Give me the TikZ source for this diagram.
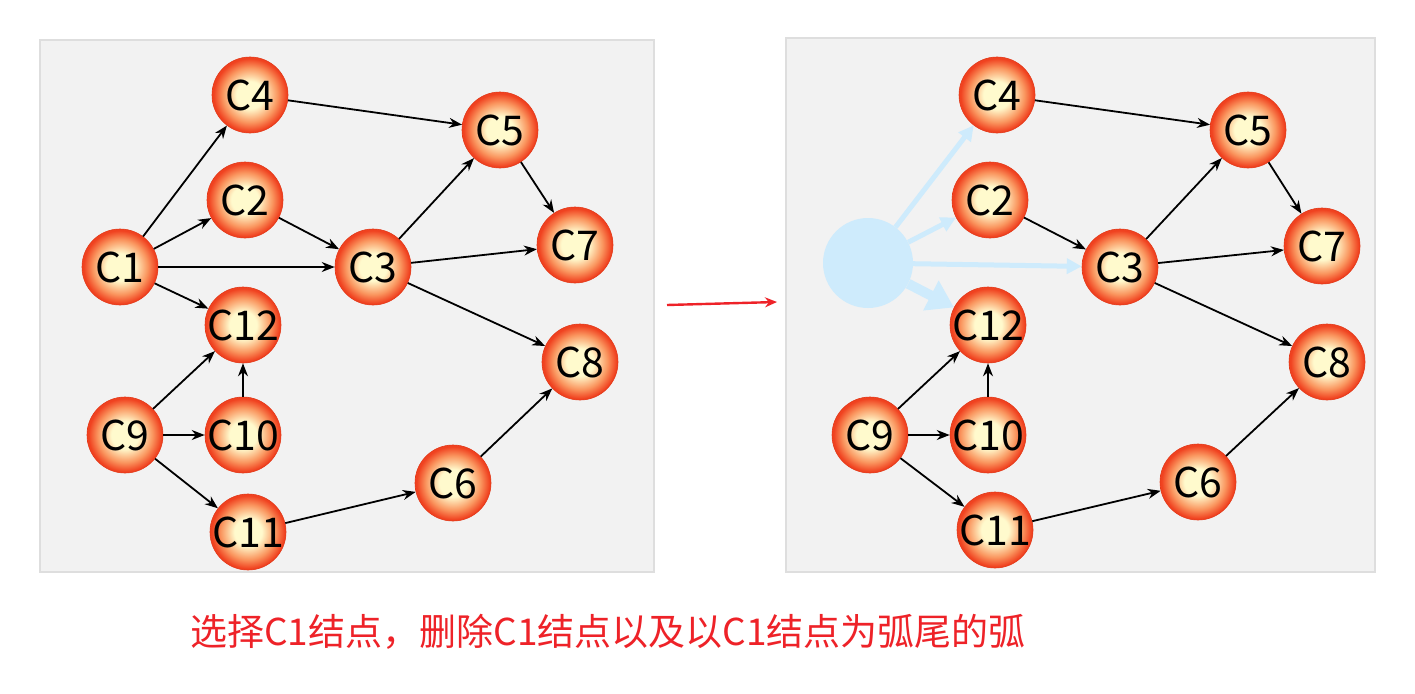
\documentclass[tikz,border=0pt]{standalone}
\usepackage{fontspec}
\setmainfont{Noto Sans CJK SC}
\usetikzlibrary{arrows.meta}

\definecolor{ballin}{RGB}{255,250,205}
\definecolor{ballmid}{RGB}{250,150,95}
\definecolor{ballout}{RGB}{240,66,32}
\definecolor{ballrim}{RGB}{226,56,24}
\definecolor{panelgray}{RGB}{242,242,242}
\definecolor{ghostblue}{RGB}{206,235,252}
\definecolor{captionred}{RGB}{238,34,40}

\pgfdeclareradialshading{nodeball}{\pgfpoint{0bp}{0bp}}{%
  color(0bp)=(ballin); color(9bp)=(ballin); color(18bp)=(ballmid);
  color(24bp)=(ballout); color(50bp)=(ballout)}

\begin{document}
\begin{tikzpicture}[x=1pt,y=-1pt,
    cnode/.style={circle, minimum size=76pt, inner sep=0pt, shading=nodeball,
      draw=ballrim, line width=0.6pt, font=\fontsize{41}{41}\selectfont,
      execute at begin node={\hbox to 0pt\bgroup\hss},
      execute at end node={\hss\egroup}},
    arc/.style={-{Stealth[length=13pt,width=10pt]}, line width=1.8pt},
    ghostarc/.style={-{Triangle[length=15pt,width=15pt]}, line width=5pt, draw=ghostblue},
    panel/.style={fill=panelgray, draw=black!13, line width=1.5pt}]

    \useasboundingbox (0,0) rectangle (1415,693);
    \fill[white] (0,0) rectangle (1415,693);

    % the two panels
    \draw[panel] (40,40) rectangle (654,572);
    \draw[panel] (786,38) rectangle (1375,572);

    % graph before
    \node[cnode] (c1) at (120,267) {C1};
    \node[cnode] (c2) at (245,200) {C2};
    \node[cnode] (c3) at (373,267) {C3};
    \node[cnode] (c4) at (250,95) {C4};
    \node[cnode] (c5) at (500,130) {C5};
    \node[cnode] (c6) at (453,483) {C6};
    \node[cnode] (c7) at (575,245) {C7};
    \node[cnode] (c8) at (580,362) {C8};
    \node[cnode] (c9) at (125,435) {C9};
    \node[cnode] (c10) at (243,435) {C10};
    \node[cnode] (c11) at (248,532) {C11};
    \node[cnode] (c12) at (243,325) {C12};

    \draw[arc] (c1) -- (c4);
    \draw[arc] (c1) -- (c2);
    \draw[arc] (c1) -- (c3);
    \draw[arc] (c1) -- (c12);
    \draw[arc] (c4) -- (c5);
    \draw[arc] (c2) -- (c3);
    \draw[arc] (c3) -- (c5);
    \draw[arc] (c3) -- (c7);
    \draw[arc] (c3) -- (c8);
    \draw[arc] (c5) -- (c7);
    \draw[arc] (c9) -- (c12);
    \draw[arc] (c9) -- (c10);
    \draw[arc] (c9) -- (c11);
    \draw[arc] (c10) -- (c12);
    \draw[arc] (c11) -- (c6);
    \draw[arc] (c6) -- (c8);

    % arrow between the panels
    \coordinate (gapa) at (667,305);
    \coordinate (gapb) at (777,302);
    \draw[-{Stealth[length=12pt,width=10pt]}, line width=2.4pt, captionred] (gapa) -- (gapb);

    % graph after, C1 removed
    \node[circle, fill=ghostblue, minimum size=90pt, inner sep=0pt] (c1g) at (868,263) {};
    \node[cnode] (c2r) at (990,200) {C2};
    \node[cnode] (c3r) at (1120,267) {C3};
    \node[cnode] (c4r) at (997,95) {C4};
    \node[cnode] (c5r) at (1248,130) {C5};
    \node[cnode] (c6r) at (1198,482) {C6};
    \node[cnode] (c7r) at (1322,246) {C7};
    \node[cnode] (c8r) at (1327,362) {C8};
    \node[cnode] (c9r) at (870,435) {C9};
    \node[cnode] (c10r) at (988,435) {C10};
    \node[cnode] (c11r) at (995,530) {C11};
    \node[cnode] (c12r) at (988,325) {C12};

    \draw[ghostarc] (c1g) -- (c4r);
    \draw[ghostarc] (c1g) -- (c2r);
    \draw[ghostarc] (c1g) -- (c3r);
    \draw[ghostarc, line width=10pt, -{Triangle[length=26pt,width=32pt]}] (c1g) -- (c12r);

    \draw[arc] (c4r) -- (c5r);
    \draw[arc] (c2r) -- (c3r);
    \draw[arc] (c3r) -- (c5r);
    \draw[arc] (c3r) -- (c7r);
    \draw[arc] (c3r) -- (c8r);
    \draw[arc] (c5r) -- (c7r);
    \draw[arc] (c9r) -- (c12r);
    \draw[arc] (c9r) -- (c10r);
    \draw[arc] (c9r) -- (c11r);
    \draw[arc] (c10r) -- (c12r);
    \draw[arc] (c11r) -- (c6r);
    \draw[arc] (c6r) -- (c8r);

    % caption
    \node[text=captionred, font=\fontsize{37}{37}\selectfont] (caption) at (608,632)
      {选择C1结点，删除C1结点以及以C1结点为弧尾的弧};
\end{tikzpicture}
\end{document}
